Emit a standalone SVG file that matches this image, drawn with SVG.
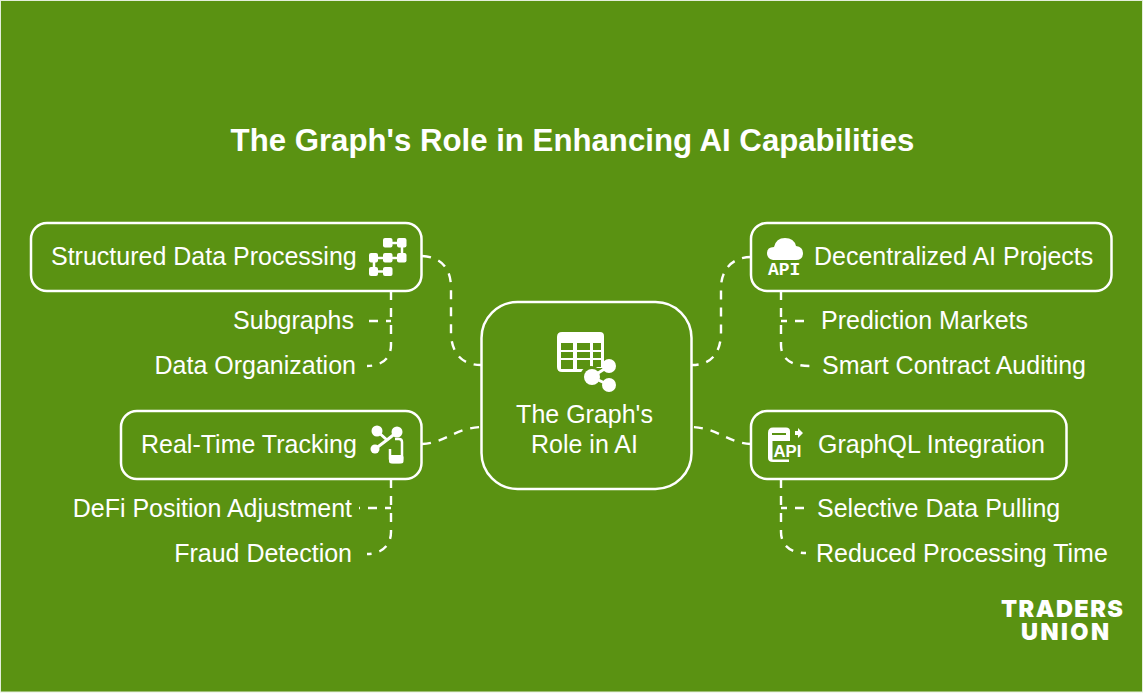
<svg xmlns="http://www.w3.org/2000/svg" width="1143" height="693" viewBox="0 0 1143 693">
<style>
text{font-family:"Liberation Sans",Arial,sans-serif;fill:#fff;font-size:25px}
.t{font-weight:700;font-size:31.200px}
.box{fill:none;stroke:#fff;stroke-width:2.500}
.c{fill:none;stroke:#fff;stroke-width:2.400;stroke-dasharray:9 8}
.ic{fill:#fff;stroke:none}
.il{fill:none;stroke:#fff;stroke-width:2.500}
.logo{font-family:Inter,"Liberation Sans",sans-serif;font-weight:900;font-size:23.500px}
</style>
<rect x="0.500" y="0.500" width="1142" height="691.500" fill="#5a9212" stroke="#e4eedb" stroke-width="1"/>
<text class="t" x="572.500" y="151" text-anchor="middle">The Graph's Role in Enhancing AI Capabilities</text>
<g id="connectors">
<path class="c" d="M422 256C441 257 451 268 451 288V332C451 352 461 365 481 365"/>
<path class="c" d="M391 291V345C391 358 382 366 367 366"/>
<path class="c" d="M369 321H391"/>
<path class="c" d="M422 444C445 443 455 428 481 427"/>
<path class="c" d="M391 479V532C391 545 382 554 367 554"/>
<path class="c" d="M391 508H359" style="stroke-dashoffset:3"/>
<path class="c" d="M751 257C732 257 721 270 721 288V332C721 352 712 365 692 365"/>
<path class="c" d="M781 291V345C781 358 790 366 810 366"/>
<path class="c" d="M804 321H781"/>
<path class="c" d="M751 444C728 443 718 428 692 427"/>
<path class="c" d="M781 479V532C781 545 790 553 806 553"/>
<path class="c" d="M804 508H781"/>
</g>
<g id="center">
<rect class="box" x="481.500" y="302" width="210" height="187" rx="36"/>
<path class="ic" fill-rule="evenodd" d="M562 332H600Q604 332 604 336V368H590V372H562Q557 372 557 367V337Q557 332 562 332ZM561 343V350H573V343ZM577 343V350H590V343ZM593 343V350H601V343ZM561 352V358H573V352ZM577 352V358H590V352ZM593 352V358H601V352ZM561 360V369H573V360ZM577 360V369H590V360ZM593 360V367H601V360Z"/>
<circle cx="591" cy="377" r="11" fill="#5a9212"/>
<circle class="ic" cx="609" cy="366" r="7"/><circle class="ic" cx="592" cy="377" r="8"/><circle class="ic" cx="609" cy="385" r="7"/>
<path d="M609 366L592 377L609 385" fill="none" stroke="#fff" stroke-width="3"/>
<text x="584.500" y="423" text-anchor="middle">The Graph's</text>
<text x="584.500" y="453" text-anchor="middle">Role in AI</text>
</g>
<g id="structured-data">
<rect class="box" x="31" y="223" width="390.500" height="68" rx="16"/>
<text x="51" y="265">Structured Data Processing</text>
<g class="ic"><rect x="383" y="238" width="9.500" height="9.500" rx="2"/><rect x="397" y="238" width="9.500" height="9.500" rx="2"/><rect x="383" y="253" width="9.500" height="9.500" rx="2"/><rect x="397" y="253" width="9.500" height="9.500" rx="2"/><rect x="369" y="253" width="9" height="9.500" rx="2"/><rect x="369" y="267" width="9" height="9" rx="2"/><rect x="383" y="267" width="9.500" height="9" rx="2"/></g>
<path class="il" d="M392 243H397M402 247V253M383 258H378M374 262V267M378 271.500H383M392 258H397"/>
</g>
<g id="subgraphs"><text x="354" y="329" text-anchor="end">Subgraphs</text></g>
<g id="data-organization"><text x="356" y="374" text-anchor="end">Data Organization</text></g>
<g id="real-time">
<rect class="box" x="121" y="411" width="300.500" height="68" rx="16"/>
<text x="141" y="453">Real-Time Tracking</text>
<circle class="ic" cx="377" cy="431" r="5.500"/><circle class="ic" cx="397" cy="432" r="5.500"/><circle class="ic" cx="375" cy="449" r="4.500"/>
<path d="M377 431L387 440M397 432L387 440M375 449L387 440" fill="none" stroke="#fff" stroke-width="3"/>
<path d="M395 439H399Q402 439 402 442V459Q402 462 399 462H393Q390 462 390 459V449" fill="none" stroke="#fff" stroke-width="2.500"/>
<rect class="ic" x="389" y="455" width="14.500" height="8.500" rx="2.500"/>
</g>
<g id="defi"><text x="352" y="517" text-anchor="end">DeFi Position Adjustment</text></g>
<g id="fraud"><text x="352" y="562" text-anchor="end">Fraud Detection</text></g>
<g id="decentralized">
<rect class="box" x="751" y="223" width="360.500" height="68" rx="16"/>
<path class="ic" d="M773 260Q767 259 767 253Q767 247 774 247Q776 238 785 238Q794 238 796 246Q803 247 803 253Q803 260 796 260Z"/>
<text x="768" y="275" style="font-family:'Liberation Mono',monospace;font-size:18px;font-weight:700">API</text>
<text x="814" y="265">Decentralized AI Projects</text>
</g>
<g id="prediction"><text x="821" y="329">Prediction Markets</text></g>
<g id="smart"><text x="822" y="374">Smart Contract Auditing</text></g>
<g id="graphql">
<rect class="box" x="751" y="411" width="315.500" height="68" rx="16"/>
<path class="ic" fill-rule="evenodd" d="M773 427.500H786Q790 427.500 790 431V441H772.500V459.500H789V462H773Q768 462 768 458V433Q768 427.500 773 427.500ZM772 433V435H786V433Z"/>
<path class="ic" d="M795 431H798V428L803 433L798 438V435H795Z"/>
<text x="773.500" y="457" style="font-size:16.700px;font-weight:700">API</text>
<text x="818" y="453">GraphQL Integration</text>
</g>
<g id="selective"><text x="817" y="517">Selective Data Pulling</text></g>
<g id="reduced"><text x="816" y="562">Reduced Processing Time</text></g>
<g id="logo">
<text class="logo" x="1001" y="617" textLength="122" lengthAdjust="spacing">TRADERS</text>
<text class="logo" x="1021" y="640" textLength="88" lengthAdjust="spacing">UNION</text>
</g>
</svg>
